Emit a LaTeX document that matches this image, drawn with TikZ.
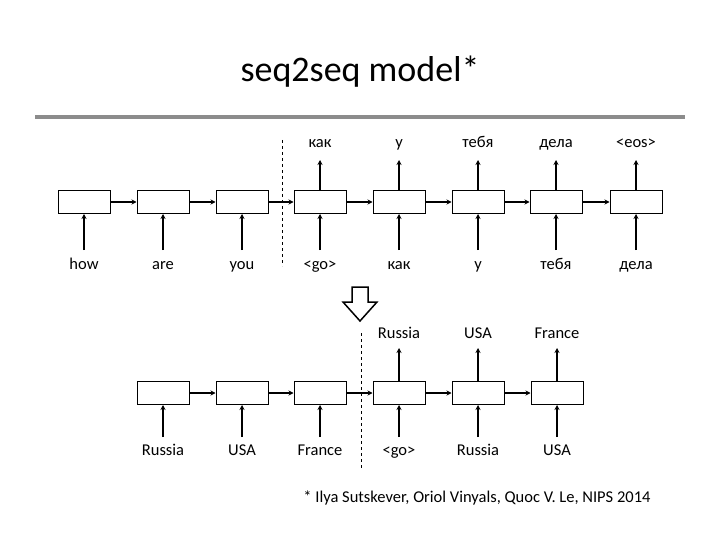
\documentclass[tikz,border=0pt]{standalone}
\usepackage{fontspec}
\setmainfont{Carlito}
\usetikzlibrary{arrows.meta}
\begin{document}
\begin{tikzpicture}[x=1pt,y=-1pt,
  cell/.style={draw,line width=1pt,minimum width=52pt,minimum height=23pt,inner sep=0pt},
  lbl/.style={font=\fontsize{16.5}{16.5}\selectfont,inner sep=0pt,text height=11pt,text depth=3.5pt,anchor=center},
  arr/.style={line width=1.2pt,-{Stealth[length=5pt,width=5pt]}}]
\useasboundingbox (0,0) rectangle (720,540);
\node[font=\fontsize{36}{36}\selectfont] (title) at (360,72) {seq2seq model*};
\draw[line width=3.5pt,gray!90] (35,117) -- (685,117);
% top row
\foreach \i/\x/\inp in {1/84/how,2/163/are,3/242/you,4/320/<go>,5/399/как,6/478/у,7/556/тебя,8/636/дела}{
  \node[cell] (t\i) at (\x,202) {};
  \node[lbl] (ti\i) at (\x,266) {\inp};
  \coordinate (tb\i) at (\x,250);
  \draw[arr] (tb\i) -- (t\i.south);
}
\foreach \i/\x/\outp in {4/320/как,5/399/у,6/478/тебя,7/556/дела,8/636/<eos>}{
  \node[lbl] (tout\i) at (\x,144) {\outp};
  \coordinate (tc\i) at (\x,160);
  \draw[arr] (t\i.north) -- (tc\i);
}
\foreach \a/\b in {1/2,2/3,3/4,4/5,5/6,6/7,7/8}{\draw[arr] (t\a) -- (t\b);}
\coordinate (d1) at (282,140); \coordinate (d2) at (282,266);
\draw[dashed,line width=0.8pt] (d1) -- (d2);
% hollow arrow
\draw[line width=1.5pt,fill=white] (352,287) -- (368,287) -- (368,302) -- (377,302) -- (360,321) -- (343,302) -- (352,302) -- cycle;
% bottom row
\foreach \i/\x/\inp in {1/163/Russia,2/242/USA,3/320/France,4/399/<go>,5/478/Russia,6/557/USA}{
  \node[cell] (b\i) at (\x,393) {};
  \node[lbl] (bi\i) at (\x,452) {\inp};
  \coordinate (bb\i) at (\x,437);
  \draw[arr] (bb\i) -- (b\i.south);
}
\foreach \i/\x/\outp in {4/399/Russia,5/478/USA,6/557/France}{
  \node[lbl] (bout\i) at (\x,335) {\outp};
  \coordinate (bc\i) at (\x,348);
  \draw[arr] (b\i.north) -- (bc\i);
}
\foreach \a/\b in {1/2,2/3,3/4,4/5,5/6}{\draw[arr] (b\a) -- (b\b);}
\coordinate (e1) at (361,333); \coordinate (e2) at (361,470);
\draw[dashed,line width=0.8pt] (e1) -- (e2);
\node[font=\fontsize{16.5}{16.5}\selectfont] (foot) at (477,498) {* Ilya Sutskever, Oriol Vinyals, Quoc V. Le, NIPS 2014};
\end{tikzpicture}
\end{document}
